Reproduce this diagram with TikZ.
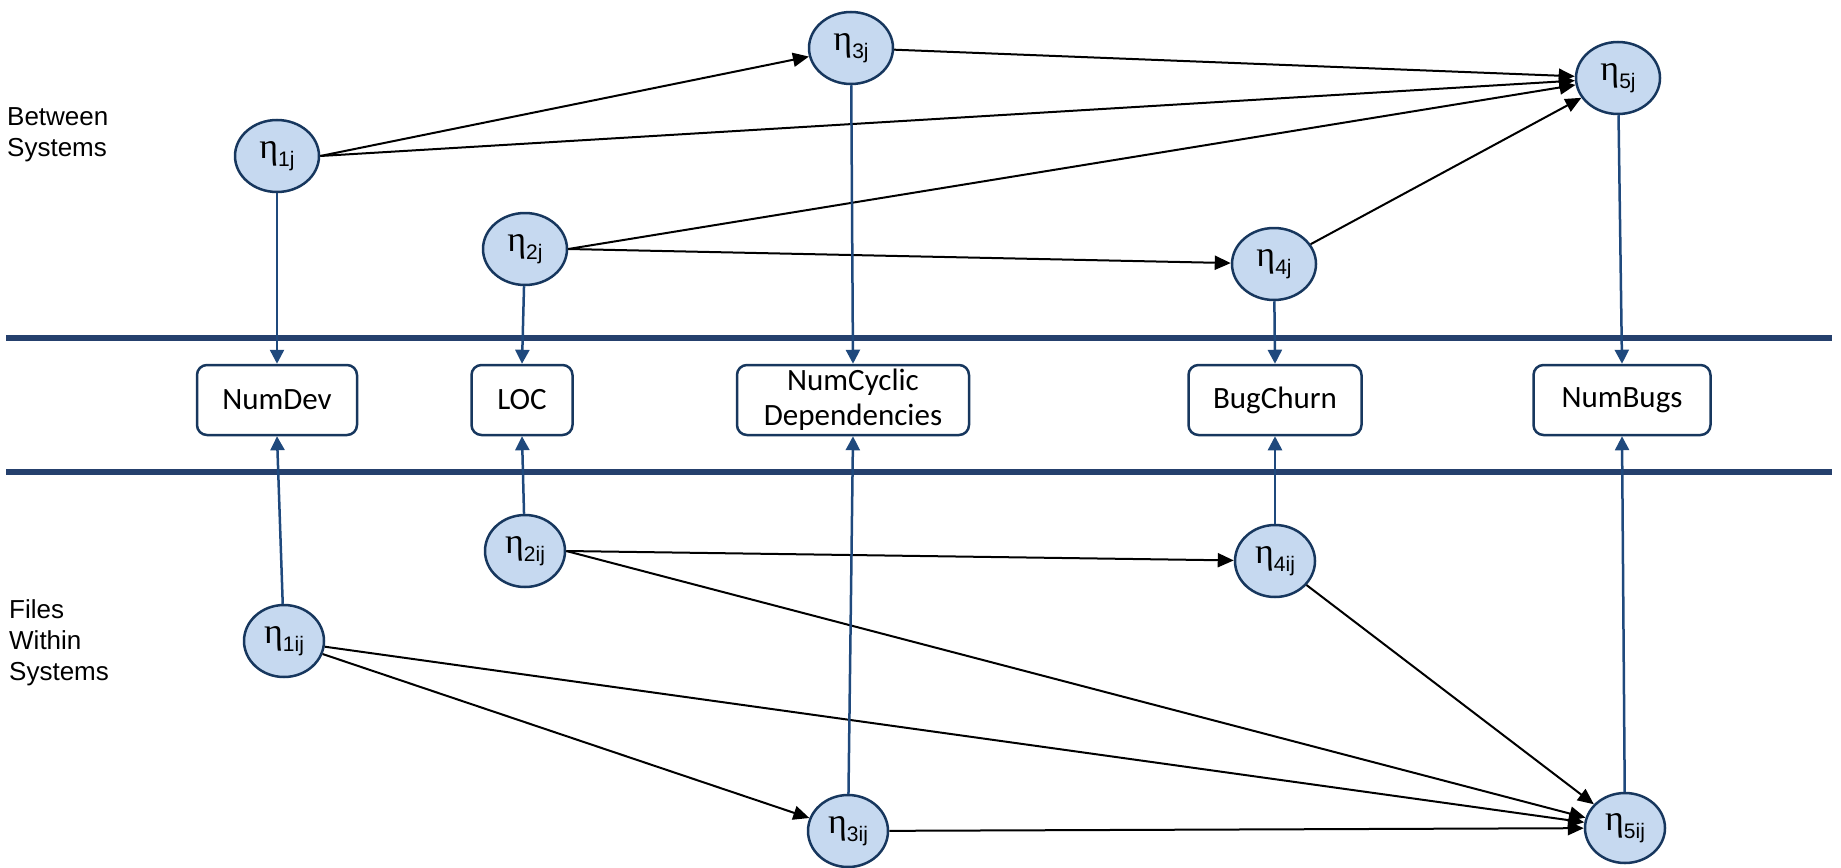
\documentclass[tikz,border=0pt]{standalone}
\usepackage{fontspec}
\setmainfont{Liberation Sans}
\newfontfamily\boxfont{Carlito}
\newfontfamily\etafont{Liberation Serif}
\usetikzlibrary{shapes.geometric,arrows.meta,positioning}

\definecolor{etafill}{RGB}{198,217,240}
\definecolor{etaline}{RGB}{23,55,94}
\definecolor{linkblue}{RGB}{31,73,125}
\definecolor{barblue}{RGB}{37,64,109}

% eta label with subscript
\newcommand{\nlab}[1]{{\etafont\fontsize{36}{36}\selectfont η}\raisebox{-8pt}{\fontsize{21}{21}\selectfont #1}}

\begin{document}
\begin{tikzpicture}[x=1pt, y=-1pt,
        eta/.style     = {ellipse, draw=etaline, line width=2.5pt, fill=etafill,
                          minimum width=84pt, minimum height=72pt, inner sep=0pt},
        var/.style     = {draw=etaline, line width=2.5pt, rounded corners=10pt,
                          minimum height=70pt, inner sep=0pt, align=center,
                          font=\boxfont\fontsize{31}{35}\selectfont},
        link/.style    = {-{Triangle[length=16pt, width=14pt]}, line width=2pt, black},
        measure/.style = {-{Triangle[length=14pt, width=14pt]}, line width=2.5pt, linkblue},
        side/.style    = {anchor=west, align=left, inner sep=0pt,
                          font=\fontsize{26}{31}\selectfont}]
    \useasboundingbox (0,0) rectangle (1841,867);

    % levels
    \node [side]                                (between) at (7,135)  {Between\\Systems};
    \node [side]                                (files)   at (9,643)  {Files\\Within\\Systems};
    \draw [barblue, line width=6pt] (6,338) -- (1832,338);
    \draw [barblue, line width=6pt] (6,472) -- (1832,472);

    % between systems
    \node [eta]                                 (e1j)  at (277,156)  {\nlab{1j}};
    \node [eta]                                 (e3j)  at (851,48)   {\nlab{3j}};
    \node [eta]                                 (e5j)  at (1618,78)  {\nlab{5j}};
    \node [eta]                                 (e2j)  at (525,249)  {\nlab{2j}};
    \node [eta]                                 (e4j)  at (1274,264) {\nlab{4j}};

    % measures
    \node [var, minimum width=160pt]            (numdev)   at (277,400)  {NumDev};
    \node [var, minimum width=101pt]            (loc)      at (522,400)  {LOC};
    \node [var, minimum width=232pt]            (numcyc)   at (853,400)  {NumCyclic\\Dependencies};
    \node [var, minimum width=173pt]            (bugchurn) at (1275,400) {BugChurn};
    \node [var, minimum width=177pt]            (numbugs)  at (1622,400) {NumBugs};

    % files within systems
    \node [eta, minimum width=80pt]             (e2ij) at (525,551)  {\nlab{2ij}};
    \node [eta, minimum width=80pt]             (e4ij) at (1275,561) {\nlab{4ij}};
    \node [eta, minimum width=80pt]             (e1ij) at (284,641)  {\nlab{1ij}};
    \node [eta, minimum width=80pt]             (e3ij) at (848,831)  {\nlab{3ij}};
    \node [eta, minimum width=80pt, minimum height=70pt] (e5ij) at (1625,828) {\nlab{5ij}};

    \path [link] (e1j.east)  edge (e3j)
                 (e1j.east)  edge (e5j)
                 (e3j)       edge (e5j)
                 (e2j.east)  edge (e5j)
                 (e2j.east)  edge (e4j)
                 (e4j)       edge (e5j);
    \path [link] (e2ij.east) edge (e4ij)
                 (e2ij.east) edge (e5ij)
                 (e4ij)      edge (e5ij)
                 (e1ij)      edge (e5ij)
                 (e1ij)      edge (e3ij)
                 (e3ij)      edge (e5ij);

    \path [measure] (e1j)  edge (numdev.north)
                    (e2j)  edge (loc.north)
                    (e3j)  edge (numcyc.north)
                    (e4j)  edge (bugchurn.north)
                    (e5j)  edge (numbugs.north);
    \path [measure] (e1ij) edge (numdev.south)
                    (e2ij) edge (loc.south)
                    (e3ij) edge (numcyc.south)
                    (e4ij) edge (bugchurn.south)
                    (e5ij) edge (numbugs.south);
\end{tikzpicture}
\end{document}
